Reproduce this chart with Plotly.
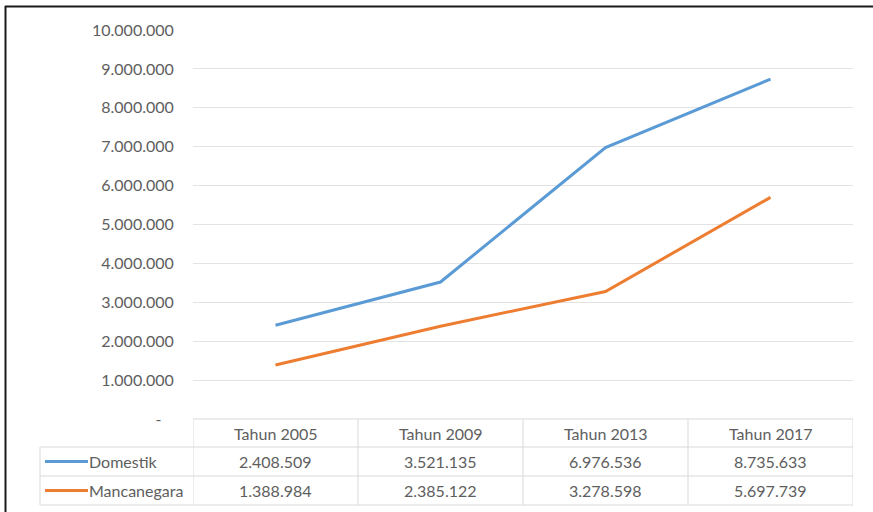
import plotly.graph_objects as go

# Data
categories = ["Tahun 2005", "Tahun 2009", "Tahun 2013", "Tahun 2017"]
domestik = [2408509, 3521135, 6976536, 8735633]
mancanegara = [1388984, 2385122, 3278598, 5697739]
series_names = ["Domestik", "Mancanegara"]
y_ticks = [0, 1000000, 2000000, 3000000, 4000000, 5000000,
           6000000, 7000000, 8000000, 9000000, 10000000]

W, H = 873, 512
BLUE = "#5B9BD5"
ORANGE = "#ED7D31"
TEXT = "#5e5e5e"
GRID = "#e3e3e3"
TABLE_LINE = "#d9d9d9"
FONT = "Lato"
FS = 16


def px_x(p):
    return p / W


def px_y(p):
    return (H - p) / H


def fmt(v):
    return f"{v:,}".replace(",", ".")


# plot area in pixels
PL, PR, PT, PB = 193, 853, 30, 419
ROW_LINES = [419, 447, 476, 505]
TABLE_LEFT = 40

fig = go.Figure()
for name, vals, col in [(series_names[0], domestik, BLUE),
                        (series_names[1], mancanegara, ORANGE)]:
    fig.add_trace(go.Scatter(x=categories, y=vals, name=name, mode="lines",
                             line=dict(color=col, width=3)))

ticktext = ["-\u00a0\u00a0\u00a0" if v == 0 else fmt(v) for v in y_ticks]

shapes = []
annotations = []

# horizontal table lines
shapes.append(dict(type="line", xref="paper", yref="paper",
                   x0=px_x(PL), x1=px_x(PR), y0=px_y(ROW_LINES[0]), y1=px_y(ROW_LINES[0]),
                   line=dict(color=TABLE_LINE, width=1)))
for r in ROW_LINES[1:]:
    shapes.append(dict(type="line", xref="paper", yref="paper",
                       x0=px_x(TABLE_LEFT), x1=px_x(PR), y0=px_y(r), y1=px_y(r),
                       line=dict(color=TABLE_LINE, width=1)))
# vertical table lines at category boundaries
n = len(categories)
for i in range(n + 1):
    shapes.append(dict(type="line", xref="x", yref="paper",
                       x0=i - 0.5, x1=i - 0.5,
                       y0=px_y(ROW_LINES[0]), y1=px_y(ROW_LINES[-1]),
                       line=dict(color=TABLE_LINE, width=1)))
shapes.append(dict(type="line", xref="paper", yref="paper",
                   x0=px_x(TABLE_LEFT), x1=px_x(TABLE_LEFT),
                   y0=px_y(ROW_LINES[1]), y1=px_y(ROW_LINES[-1]),
                   line=dict(color=TABLE_LINE, width=1)))

# header texts
hdr_c = (ROW_LINES[0] + ROW_LINES[1]) / 2
for c in categories:
    annotations.append(dict(x=c, xref="x", y=px_y(hdr_c), yref="paper",
                            text=c, showarrow=False, yanchor="middle",
                            font=dict(family=FONT, size=FS, color=TEXT)))

# data rows with legend keys
for k, (name, vals, col) in enumerate([(series_names[0], domestik, BLUE),
                                       (series_names[1], mancanegara, ORANGE)]):
    yc = (ROW_LINES[k + 1] + ROW_LINES[k + 2]) / 2
    shapes.append(dict(type="line", xref="paper", yref="paper",
                       x0=px_x(45), x1=px_x(88), y0=px_y(yc), y1=px_y(yc),
                       line=dict(color=col, width=3)))
    annotations.append(dict(x=px_x(87), xref="paper", y=px_y(yc), yref="paper",
                            text=name, showarrow=False, xanchor="left",
                            yanchor="middle",
                            font=dict(family=FONT, size=FS, color=TEXT)))
    for c, v in zip(categories, vals):
        annotations.append(dict(x=c, xref="x", y=px_y(yc), yref="paper",
                                text=fmt(v), showarrow=False, yanchor="middle",
                                font=dict(family=FONT, size=FS, color=TEXT)))

# outer frame (top and left edges)
shapes.append(dict(type="line", xref="paper", yref="paper",
                   x0=px_x(5), x1=1, y0=px_y(6.5), y1=px_y(6.5),
                   line=dict(color="#1a1a1a", width=2)))
shapes.append(dict(type="line", xref="paper", yref="paper",
                   x0=px_x(5.5), x1=px_x(5.5), y0=0, y1=px_y(6),
                   line=dict(color="#1a1a1a", width=2)))

fig.update_layout(
    width=W, height=H,
    margin=dict(l=0, r=0, t=0, b=0, pad=0, autoexpand=False),
    paper_bgcolor="white", plot_bgcolor="white",
    showlegend=False,
    separators=",.",
    font=dict(family=FONT, size=FS, color=TEXT),
    xaxis=dict(domain=[px_x(PL), px_x(PR)], type="category",
               range=[-0.5, n - 0.5], showticklabels=False, automargin=False,
               showgrid=False, zeroline=False, showline=False),
    yaxis=dict(domain=[px_y(PB), px_y(PT)], range=[0, 10000000],
               tickvals=y_ticks, ticktext=ticktext, automargin=False,
               showgrid=True, gridcolor=GRID, gridwidth=1,
               zeroline=False, showline=False,
               ticks="outside", ticklen=15, tickcolor="rgba(0,0,0,0)",
               tickfont=dict(family=FONT, size=FS, color=TEXT)),
    shapes=shapes,
    annotations=annotations,
)

fig.write_html("out.html")
